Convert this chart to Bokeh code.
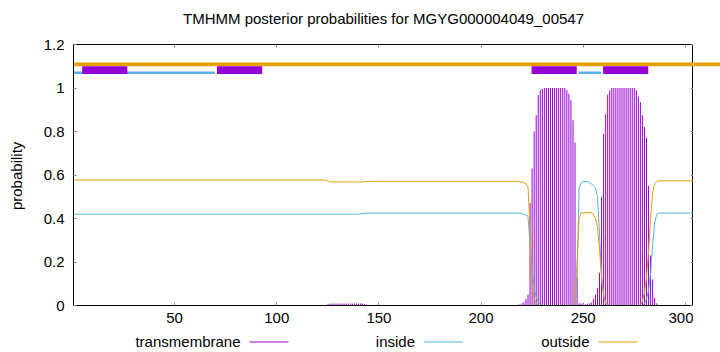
from math import pi
from bokeh.plotting import figure
from bokeh.layouts import column, row
from bokeh.models import Range1d, FixedTicker, LinearAxis, CustomJSTickFormatter
from bokeh.core.properties import value
from bokeh.embed import file_html
from bokeh.resources import INLINE

# ---------------- data ----------------
title_text = "TMHMM posterior probabilities for MGYG000004049_00547"
y_label = "probability"
x_ticks = [50, 100, 150, 200, 250, 300]
y_ticks = [0, 0.2, 0.4, 0.6, 0.8, 1.0, 1.2]
legend_labels = ["transmembrane", "inside", "outside"]

# transmembrane posterior probability per residue (residues not listed are 0)
tm_pos = list(range(125, 146)) + list(range(150, 288))
tm_prob = (
    [0.006] + [0.009] * 17 + [0.006, 0.004, 0.003]            # 125-145
    + [0.002] * 67                                             # 150-216
    + [0.002, 0.003, 0.005, 0.01, 0.015, 0.03, 0.05, 0.47,     # 217-224
       0.63, 0.80, 0.875, 0.967, 0.99, 0.995]                  # 225-230
    + [1.0] * 11                                               # 231-241
    + [0.99, 0.974, 0.944, 0.852, 0.75, 0.134, 0.01, 0.01,     # 242-249
       0.008, 0.005, 0.008, 0.01, 0.013, 0.03, 0.05, 0.08,     # 250-257
       0.15, 0.50, 0.79, 0.88, 0.97, 0.99]                     # 258-263
    + [1.0] * 12                                               # 264-275
    + [0.99, 0.96, 0.935, 0.875, 0.82, 0.77, 0.55, 0.23,       # 276-283
       0.12, 0.035, 0.01, 0.003]                               # 284-287
)

inside_x = [1, 140, 144, 218, 219, 220, 221, 222, 223, 224, 225, 226, 227, 228,
            229, 230, 245, 246, 247, 248, 249, 250, 252, 253, 254, 255, 256,
            257, 258, 259, 260, 261, 262, 263, 279, 280, 281, 282, 283, 284,
            285, 286, 287, 304]
inside_y = [0.42, 0.42, 0.425, 0.425, 0.424, 0.422, 0.42, 0.415, 0.41, 0.28,
            0.18, 0.08, 0.04, 0.015, 0.005, 0.0, 0.0, 0.0, 0.12, 0.54, 0.565,
            0.57, 0.57, 0.565, 0.56, 0.55, 0.54, 0.50, 0.33, 0.13, 0.05, 0.015,
            0.003, 0.0, 0.0, 0.01, 0.03, 0.07, 0.15, 0.28, 0.38, 0.42, 0.425,
            0.425]

outside_x = [1, 124, 126, 143, 145, 217, 218, 219, 220, 221, 222, 223, 224,
             225, 226, 227, 228, 229, 245, 246, 247, 248, 249, 254, 255, 256,
             257, 258, 259, 260, 261, 262, 278, 279, 280, 281, 282, 283, 284,
             285, 286, 287, 304]
outside_y = [0.577, 0.577, 0.568, 0.568, 0.571, 0.571, 0.57, 0.569, 0.567,
             0.565, 0.56, 0.545, 0.35, 0.10, 0.03, 0.01, 0.003, 0.0, 0.0, 0.02,
             0.2, 0.40, 0.425, 0.428, 0.42, 0.40, 0.36, 0.26, 0.13, 0.04, 0.01,
             0.0, 0.0, 0.02, 0.06, 0.13, 0.25, 0.40, 0.52, 0.56, 0.57, 0.573,
             0.573]

# predicted topology (residue ranges)
tm_seg_start = [5, 71, 225, 260]
tm_seg_end = [27, 93, 247, 282]
in_seg_start = [1, 248]
in_seg_end = [70, 259]
out_seg_start = [1]
out_seg_end = [304]

assert len(tm_pos) == len(tm_prob)
assert len(inside_x) == len(inside_y)
assert len(outside_x) == len(outside_y)

# ---------------- style ----------------
PURPLE = "#9400D3"
BLUE = "#56B4E9"
ORANGE = "#E69F00"
FONT = "Liberation Sans"
FS = "15px"

W, H = 720, 352
TITLE_H = 36
LEGEND_H = 18
MID_H = H - TITLE_H - LEGEND_H          # 298
YLAB_W = 40
RIGHT_W = 27
MAIN_W = W - YLAB_W - RIGHT_W           # 653
FR_TOP = 44 - TITLE_H                   # 8
FR_BOTTOM = MID_H - (305 - TITLE_H)     # 29
FR_LEFT = 73 - YLAB_W                   # 33

ORANGE_BOT, ORANGE_TOP = 1.1005, 1.1175


def bare_fig(w, h, xr, yr):
    f = figure(width=w, height=h, output_backend="svg", toolbar_location=None,
               x_range=xr, y_range=yr, min_border=0)
    f.axis.visible = False
    f.grid.visible = False
    f.outline_line_color = None
    f.background_fill_color = "white"
    f.border_fill_color = "white"
    return f


# ---- title ----
title_fig = bare_fig(W, TITLE_H, Range1d(0, W), Range1d(0, TITLE_H))
title_fig.text(x=[383], y=[TITLE_H - 18], text=[title_text], text_font=value(FONT),
               text_font_size=FS, text_align="center", text_baseline="middle",
               text_color="black")

# ---- y label ----
ylab_fig = bare_fig(YLAB_W, MID_H, Range1d(0, YLAB_W), Range1d(0, MID_H))
ylab_fig.text(x=[16], y=[MID_H - (186 - TITLE_H)], text=[y_label],
              text_font=value(FONT), text_font_size=FS, angle=pi / 2,
              text_align="center", text_baseline="middle", text_color="black")

# ---- main plot ----
yr = Range1d(0, 1.2)
p = figure(width=MAIN_W, height=MID_H, output_backend="svg", toolbar_location=None,
           x_range=Range1d(0.5, 304), y_range=yr,
           min_border_left=FR_LEFT, min_border_right=0,
           min_border_top=FR_TOP, min_border_bottom=FR_BOTTOM)
p.background_fill_color = "white"
p.border_fill_color = "white"
p.outline_line_color = "black"
p.outline_line_width = 1
p.xgrid.visible = False
p.ygrid.visible = False

fmt = CustomJSTickFormatter(code="return String(Math.round(tick*10)/10);")
blank = CustomJSTickFormatter(code="return '';")


def style_axis(ax, ticks, show_labels):
    ax.ticker = FixedTicker(ticks=ticks)
    ax.axis_line_color = "black"
    ax.major_tick_in = 3
    ax.major_tick_out = 0
    ax.major_tick_line_color = "#888888"
    ax.minor_tick_line_color = None
    ax.major_label_text_font = FONT
    ax.major_label_text_font_size = FS
    ax.major_label_text_color = "black"
    ax.formatter = fmt if show_labels else blank
    if not show_labels:
        ax.major_label_standoff = 0


style_axis(p.xaxis[0], x_ticks, True)
style_axis(p.yaxis[0], y_ticks, True)
p.xaxis[0].major_label_standoff = 7
p.yaxis[0].major_label_standoff = 9

top_ax = LinearAxis()
style_axis(top_ax, x_ticks, False)
p.add_layout(top_ax, "above")
right_ax = LinearAxis()
style_axis(right_ax, y_ticks, False)
p.add_layout(right_ax, "right")

# transmembrane impulses
p.segment(x0=tm_pos, y0=[0] * len(tm_pos), x1=tm_pos, y1=tm_prob,
          line_color=PURPLE, line_width=1.0)
# inside / outside lines
p.line(inside_x, inside_y, line_color=BLUE, line_width=1)
p.line(outside_x, outside_y, line_color=ORANGE, line_width=1)

# topology
p.quad(left=[s - 0.5 for s in out_seg_start], right=[e + 2 for e in out_seg_end],
       bottom=ORANGE_BOT, top=ORANGE_TOP, fill_color=ORANGE, line_color=None)
p.quad(left=[s - 0.3 for s in in_seg_start], right=[e - 0.25 for e in in_seg_end],
       bottom=1.0647, top=1.0753, fill_color=BLUE, line_color=None)
p.quad(left=[s - 0.25 for s in tm_seg_start], right=[e - 0.15 for e in tm_seg_end],
       bottom=1.064, top=1.100, fill_color=PURPLE, line_color=None)

# ---- orange topology line continues past the right border ----
right_fig = figure(width=RIGHT_W, height=MID_H, output_backend="svg",
                   toolbar_location=None, x_range=Range1d(0, RIGHT_W), y_range=yr,
                   min_border_left=0, min_border_right=0,
                   min_border_top=FR_TOP, min_border_bottom=FR_BOTTOM)
right_fig.axis.visible = False
right_fig.grid.visible = False
right_fig.outline_line_color = None
right_fig.quad(left=[0], right=[RIGHT_W], bottom=ORANGE_BOT, top=ORANGE_TOP,
               fill_color=ORANGE, line_color=None)

# ---- legend (gnuplot style: label then sample line) ----
leg_fig = bare_fig(W, LEGEND_H, Range1d(0, W), Range1d(0, LEGEND_H))
legend_colors = [PURPLE, BLUE, ORANGE]
legend_text_right = [240, 414.5, 589]
yc = LEGEND_H - (341 - (H - LEGEND_H))
leg_fig.text(x=legend_text_right, y=[yc] * 3, text=legend_labels,
             text_font=value(FONT), text_font_size=FS, text_align="right",
             text_baseline="middle", text_color="black")
leg_fig.segment(x0=[x + 9 for x in legend_text_right], y0=[yc - 0.5] * 3,
                x1=[x + 48 for x in legend_text_right], y1=[yc - 0.5] * 3,
                line_color=legend_colors, line_width=1)

layout = column(title_fig, row(ylab_fig, p, right_fig, spacing=0),
                leg_fig, spacing=0)
open("out.html", "w").write(file_html(layout, INLINE))
